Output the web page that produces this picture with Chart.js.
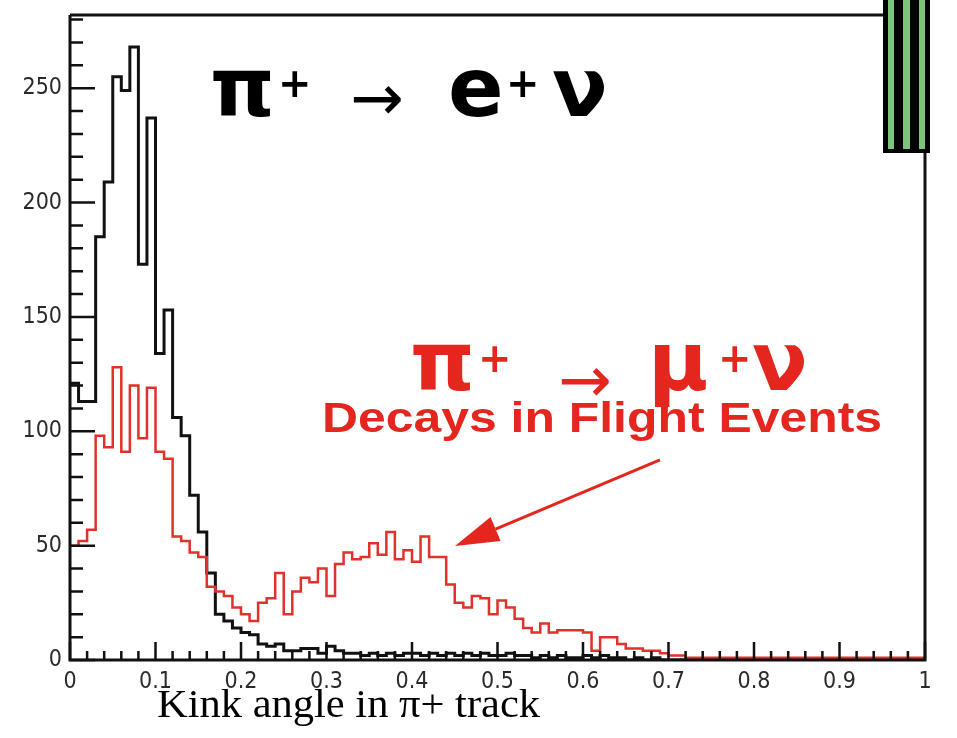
<!DOCTYPE html>
<html><head><meta charset="utf-8">
<script src="https://cdn.jsdelivr.net/npm/chart.js@4/dist/chart.umd.min.js"></script>
<style>html,body{margin:0;padding:0;background:#fff;}#wrap{width:957px;height:738px;}</style>
</head><body><div id="wrap"><canvas id="c" width="957" height="738"></canvas></div>
<script>
// ---- data ----
const binWidth = 0.01;
const xMin = 0, xMax = 1, yMin = 0, yMax = 282;
// pi+ -> e+ nu (black), counts per 0.01 bin of kink angle
const piToE = [121,113,113,185,209,255,249,268,173,237,
  134,153,106,98,72,56,38,20,17,14,
  12,11,7,6,7,4,4,5,5,3,
  6,4,3,3,2,3,2,3,2,3,
  3,2,3,2,3,2,3,2,3,2,
  2,3,2,2,1,2,1,2,1,1,
  2,1,2,1,1,0,1,0,1,0,
  0,0,0,0,0,0,0,0,0,0,
  0,0,0,0,0,0,0,0,0,0,
  0,0,0,0,0,0,0,0,0,0];
// pi+ -> mu+ nu decays in flight (red)
const piToMu = [50,52,57,98,93,128,91,120,97,119,
  91,88,54,52,47,45,32,30,28,23,
  20,17,25,27,38,20,30,36,34,40,
  28,42,47,44,45,51,46,56,44,48,
  43,54,45,45,33,25,23,28,27,20,
  26,23,18,14,12,16,12,13,13,13,
  12,4,10,10,7,5,5,4,4,3,
  2,2,1,1,1,1,1,1,1,1,
  1,1,1,1,1,1,1,1,1,1,
  1,1,1,1,1,1,1,1,1,1];
const xTickValues = [0,0.1,0.2,0.3,0.4,0.5,0.6,0.7,0.8,0.9,1];
const xTickLabels = ['0','0.1','0.2','0.3','0.4','0.5','0.6','0.7','0.8','0.9','1'];
const yTickValues = [0,50,100,150,200,250];
const yTickLabels = ['0','50','100','150','200','250'];
const xTitle = 'Kink angle in \u03c0+ track';
const subtitle = 'Decays in Flight Events';

function toPoints(vals){
  const pts = vals.map((v,i)=>({x:i*binWidth, y:v}));
  pts.push({x:vals.length*binWidth, y:vals[vals.length-1]});
  return pts;
}

const RED = '#e5261f';
const tickFont = "'Liberation Sans Narrow','DejaVu Sans Condensed','Liberation Sans',Arial,sans-serif";

const decor = {
  id:'decor',
  afterDatasetsDraw(chart){
    const {ctx, chartArea:a, scales:{x,y}} = chart;
    ctx.save();
    // ticks
    ctx.strokeStyle = '#111'; ctx.lineWidth = 2.5;
    ctx.beginPath();
    for(let k=0;k<=50;k++){
      const px = x.getPixelForValue(k*0.02);
      const major = k%5===0;
      ctx.moveTo(px, a.bottom); ctx.lineTo(px, a.bottom-(major?18:9));
    }
    for(let k=0;k<=28;k++){
      const py = y.getPixelForValue(k*10);
      const major = k%5===0;
      ctx.moveTo(a.left, py); ctx.lineTo(a.left+(major?25:13), py);
    }
    ctx.stroke();
    // frame
    const boxL = a.right-42, boxR = a.right+5, boxB = 153;
    ctx.lineWidth = 3; ctx.strokeStyle = '#111';
    ctx.beginPath();
    ctx.moveTo(a.left, a.top); ctx.lineTo(a.left, a.bottom); ctx.lineTo(a.right, a.bottom); ctx.lineTo(a.right, boxB);
    ctx.moveTo(a.left, a.top); ctx.lineTo(boxL, a.top);
    ctx.stroke();
    // striped box
    ctx.fillStyle = '#000'; ctx.fillRect(boxL, 0, boxR-boxL, boxB);
    ctx.fillStyle = '#7cc57a';
    [[5,6],[20,7],[36,6]].forEach(([o,w])=>ctx.fillRect(boxL+o,0,w,boxB-4));
    // titles
    const put = (txt, xv, yv, font, color, fitW) => {
      ctx.save();
      ctx.font = font; ctx.fillStyle = color; ctx.textAlign='left'; ctx.textBaseline='alphabetic';
      const px = x.getPixelForValue(xv), py = y.getPixelForValue(yv);
      ctx.translate(px, py);
      if (fitW){
        const target = x.getPixelForValue(xv+fitW) - px;
        ctx.scale(target/ctx.measureText(txt).width, 1);
      }
      ctx.fillText(txt, 0, 0);
      ctx.restore();
    };
    const big = "bold 82px 'DejaVu Sans',sans-serif";
    const sup = "bold 40px 'DejaVu Sans',sans-serif";
    const arr = "64px 'DejaVu Sans',sans-serif";
    put('\u03c0', 0.1637, 238, big, '#000');
    put('+', 0.2433, 246, sup, '#000');
    put('\u2192', 0.3275, 236, arr, '#000');
    put('e', 0.4421, 238, big, '#000');
    put('+', 0.5099, 246, sup, '#000');
    put('\u03bd', 0.5637, 238, big, '#000');
    put('\u03c0', 0.3977, 118, big, RED);
    put('+', 0.4772, 126, sup, RED);
    put('\u2192', 0.5708, 113, arr, RED);
    put('\u03bc', 0.676, 118, big, RED);
    put('+', 0.7579, 126, sup, RED);
    put('\u03bd', 0.7977, 118, big, RED);
    put(subtitle, 0.2947, 99.7, "bold 42px 'Liberation Sans',Arial,sans-serif", RED, 0.655);
    // arrow
    const tx = x.getPixelForValue(0.690), ty = y.getPixelForValue(87.5);
    const hx = x.getPixelForValue(0.4503), hy = y.getPixelForValue(49.8);
    const ang = Math.atan2(hy-ty, hx-tx), L = 44, W = 13;
    const bx = hx - L*Math.cos(ang), by = hy - L*Math.sin(ang);
    ctx.strokeStyle = RED; ctx.lineWidth = 3;
    ctx.beginPath(); ctx.moveTo(tx,ty); ctx.lineTo(bx,by); ctx.stroke();
    ctx.fillStyle = RED; ctx.beginPath();
    ctx.moveTo(hx,hy);
    ctx.lineTo(bx + W*Math.sin(ang), by - W*Math.cos(ang));
    ctx.lineTo(bx - W*Math.sin(ang), by + W*Math.cos(ang));
    ctx.closePath(); ctx.fill();
    // x title
    ctx.save();
    ctx.font = "39px 'Liberation Serif','Times New Roman',serif"; ctx.fillStyle = '#000';
    const x0 = x.getPixelForValue(0.1018), tw = x.getPixelForValue(0.1018+0.448) - x0;
    ctx.translate(x0, a.bottom + 57);
    ctx.scale(tw/ctx.measureText(xTitle).width, 1);
    ctx.fillText(xTitle, 0, 0);
    ctx.restore();
    ctx.restore();
  }
};

new Chart(document.getElementById('c'), {
  type:'line',
  data:{datasets:[
    {label:'pi->mu nu', data:toPoints(piToMu), stepped:'before', borderColor:'#e2302a', borderWidth:2.5, pointRadius:0, fill:false},
    {label:'pi->e nu', data:toPoints(piToE), stepped:'before', borderColor:'#111', borderWidth:3, pointRadius:0, fill:false}
  ]},
  options:{
    responsive:false, animation:false, devicePixelRatio:1,
    layout:{padding:{left:0,right:32,top:15,bottom:0}},
    plugins:{legend:{display:false}, tooltip:{enabled:false}},
    scales:{
      x:{type:'linear', min:xMin, max:xMax,
        afterBuildTicks:s=>{s.ticks = xTickValues.map(v=>({value:v}));},
        afterFit:s=>{s.height = 78; s.paddingLeft = 0; s.paddingRight = 0;},
        grid:{display:false, drawTicks:false}, border:{display:false},
        ticks:{autoSkip:false, maxRotation:0, padding:8, color:'#2a2a2a',
          font:{family:tickFont, size:23},
          callback:(v,i)=>xTickLabels[i]}},
      y:{type:'linear', min:yMin, max:yMax,
        afterBuildTicks:s=>{s.ticks = yTickValues.map(v=>({value:v}));},
        afterFit:s=>{s.width = 70; s.paddingTop = 0; s.paddingBottom = 0;},
        grid:{display:false, drawTicks:false}, border:{display:false},
        ticks:{padding:8, color:'#2a2a2a', font:{family:tickFont, size:23},
          callback:(v,i)=>yTickLabels[i]}}
    }
  },
  plugins:[decor]
});
</script></body></html>
